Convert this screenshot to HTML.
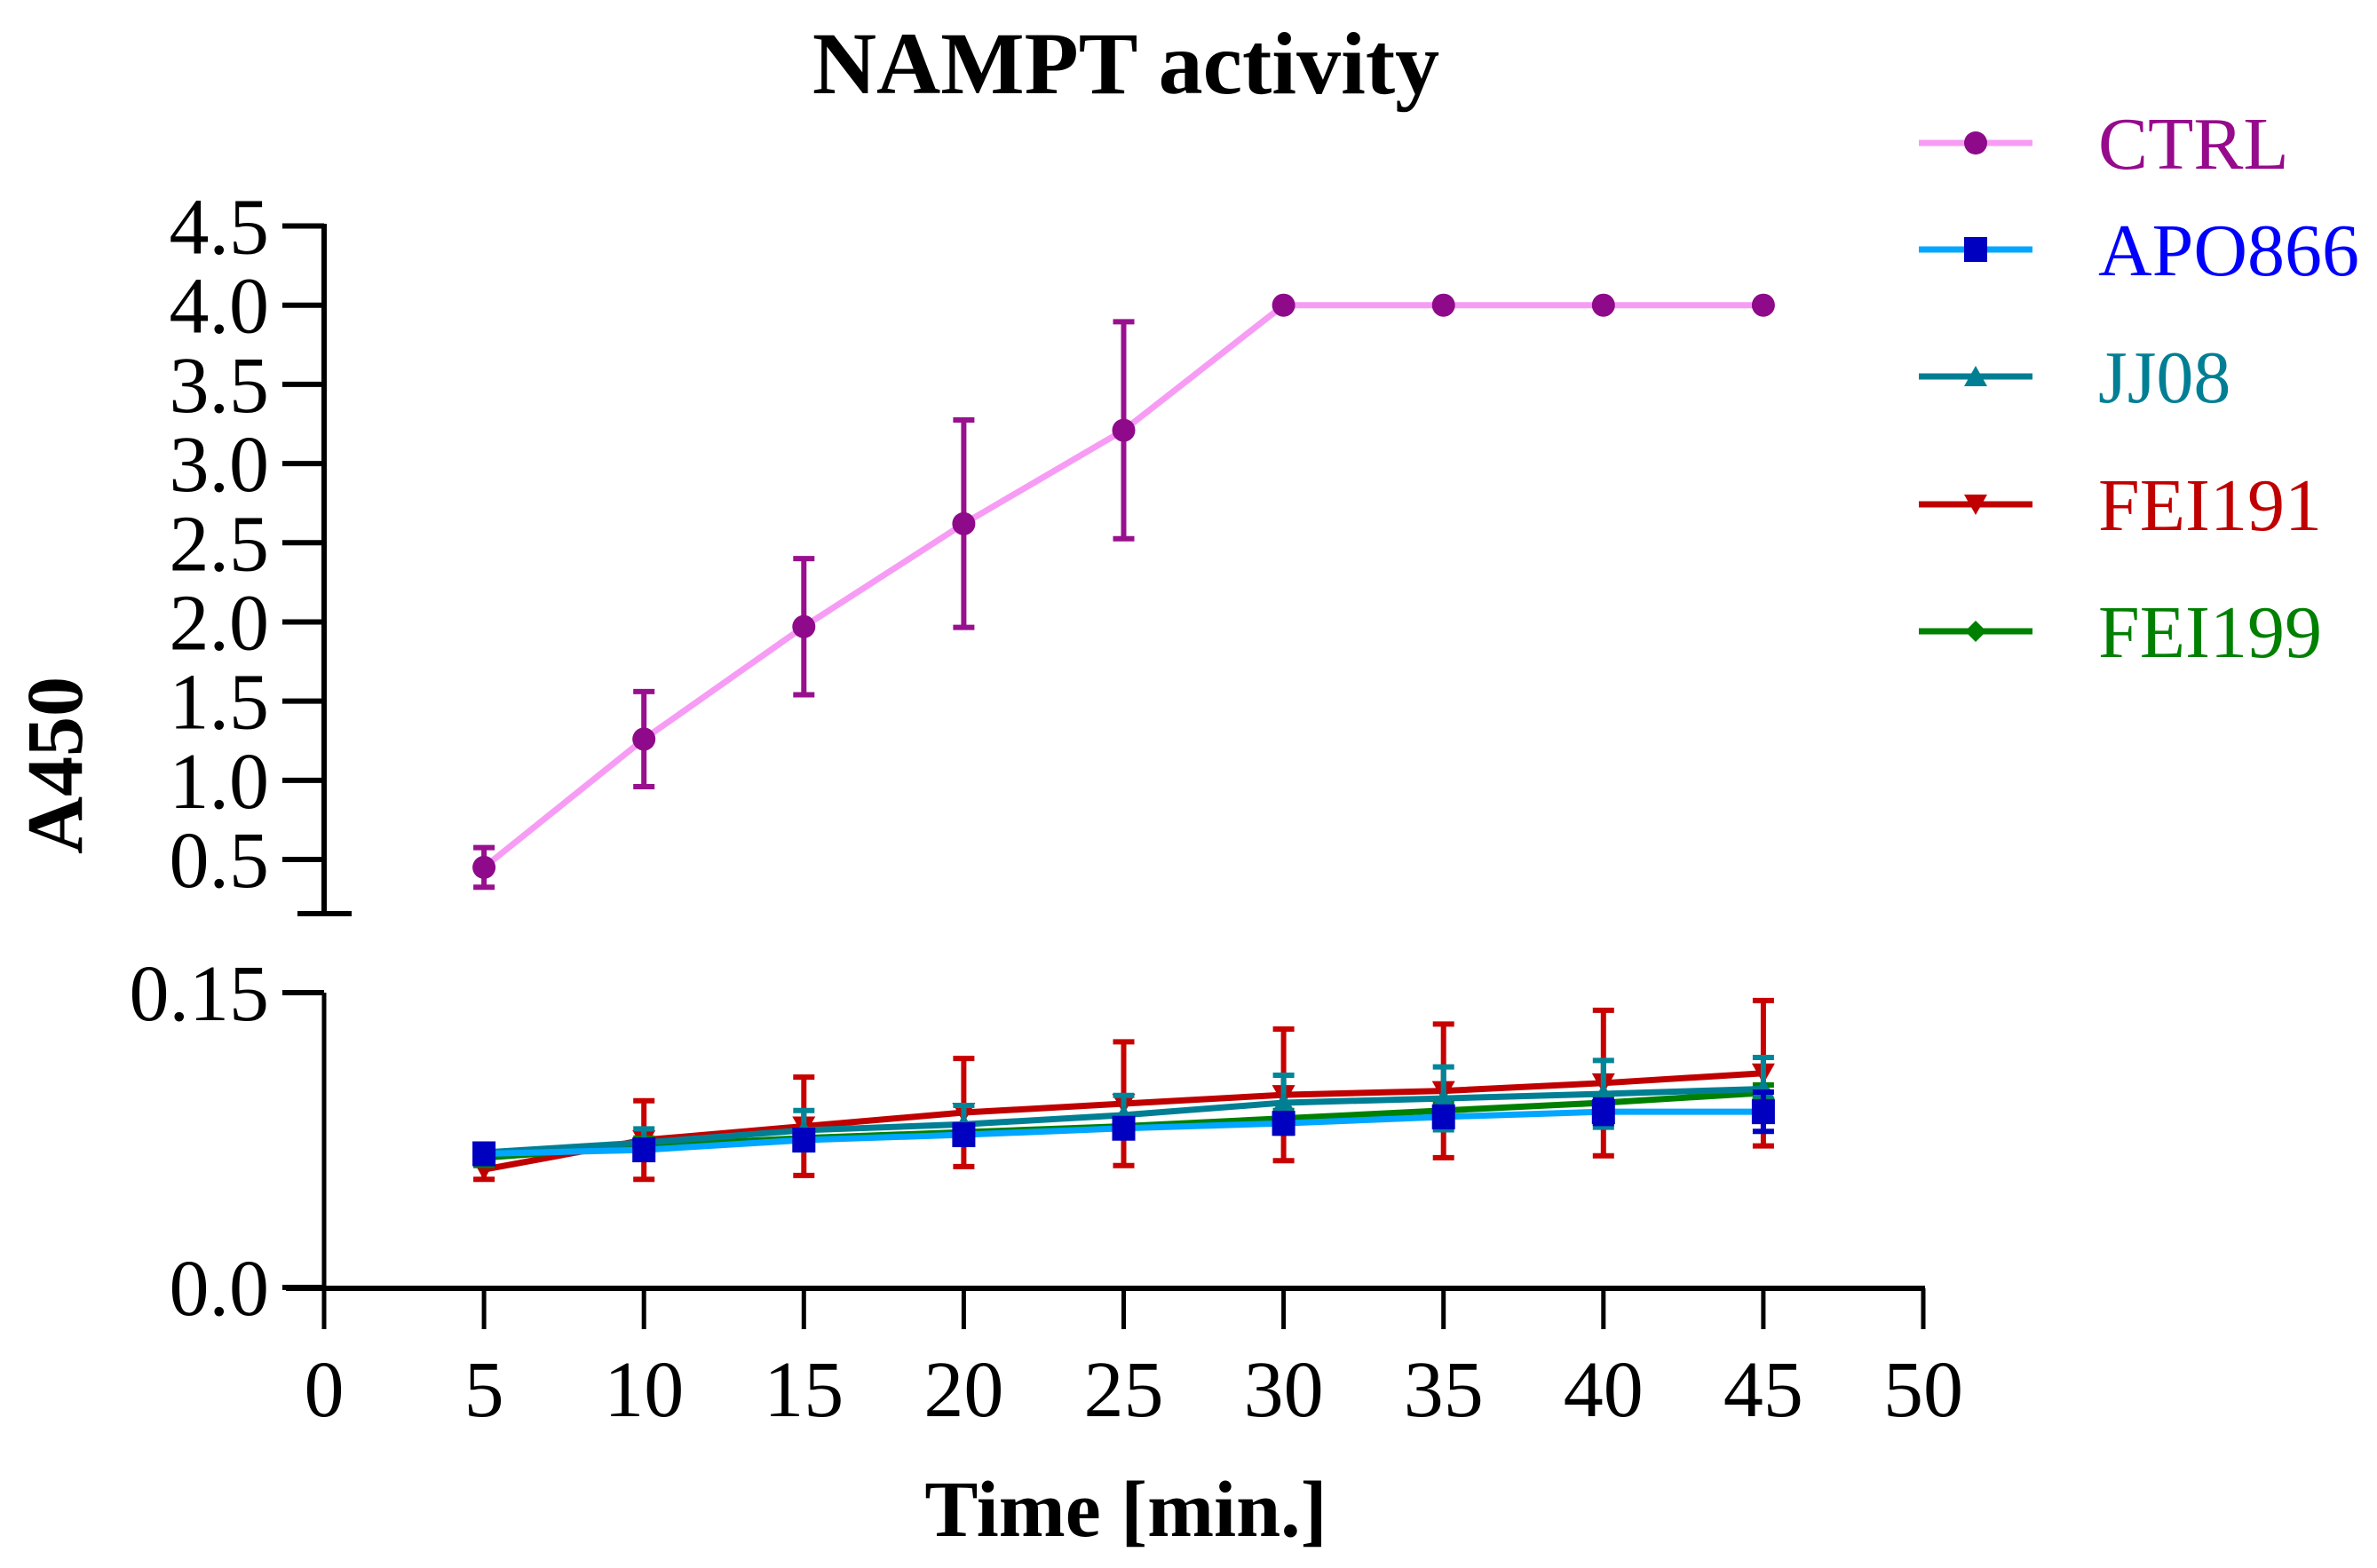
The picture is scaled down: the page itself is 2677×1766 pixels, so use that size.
<!DOCTYPE html>
<html><head><meta charset="utf-8"><style>
body{margin:0;background:#fff}
svg text{font-family:"Liberation Serif",serif}
</style></head><body>
<svg id="chart" width="2677" height="1761" viewBox="0 0 2677 1761" xmlns="http://www.w3.org/2000/svg">
<text x="1268" y="105" font-size="100" font-weight="bold" text-anchor="middle">NAMPT activity</text>
<text transform="translate(92,862) rotate(-90)" font-size="90" font-weight="bold" text-anchor="middle">A450</text>
<text x="1268" y="1730" font-size="90" font-weight="bold" text-anchor="middle">Time [min.]</text>
<g id="axes"></g>
<g id="series"></g>
<g id="legend"></g>
</svg>
<script>
const times=[5,10,15,20,25,30,35,40,45];
const xTicks=[0,5,10,15,20,25,30,35,40,45,50];
const yTicksUpper=["0.5","1.0","1.5","2.0","2.5","3.0","3.5","4.0","4.5"];
const yTicksLower=["0.0","0.15"];
const ctrlMean=[0.45,1.26,1.97,2.62,3.21,4.0,4.0,4.0,4.0];
const ctrlSd=[0.125,0.30,0.43,0.655,0.685,0,0,0,0];
const apoMean=[0.068,0.070,0.075,0.0777,0.081,0.0835,0.0868,0.0894,0.0894];
const apoSd=[0.004,0.004,0.004,0.004,0.004,0.005,0.005,0.006,0.010];
const jjMean=[0.0687,0.0737,0.080,0.083,0.0877,0.094,0.0962,0.0985,0.101];
const jjSd=[0.004,0.007,0.010,0.0096,0.010,0.014,0.016,0.017,0.016];
const fei191Mean=[0.060,0.075,0.082,0.089,0.0935,0.098,0.100,0.104,0.109];
const fei191Sd=[0.005,0.020,0.025,0.0275,0.0315,0.0335,0.034,0.037,0.037];
const fei199Mean=[0.066,0.072,0.076,0.079,0.082,0.086,0.090,0.094,0.099];
const fei199Sd=[0.004,0.004,0.004,0.004,0.004,0.004,0.004,0.004,0.004];

const NS="http://www.w3.org/2000/svg";
function mk(tag,attrs,parent){const e=document.createElementNS(NS,tag);for(const k in attrs)e.setAttribute(k,attrs[k]);parent.appendChild(e);return e;}
const X=v=>365+(v-0)*(2166-365)/50;
const upperCut=0.158;
function Y(v){ if(v>=upperCut) return 968-(v-0.5)*(968-254.5)/4; return 1450-v*(1450-1118)/0.15; }
const axes=document.getElementById('axes');
let l=mk('line',{x1:365,y1:252,x2:365,y2:1031,stroke:'#000','stroke-width':6},axes);


l=mk('line',{x1:335,y1:1029,x2:396,y2:1029,stroke:'#000','stroke-width':6},axes);


yTicksUpper.forEach(t=>{const y=Y(parseFloat(t));
 let tk=mk('line',{x1:318,y1:y,x2:365,y2:y,stroke:'#000','stroke-width':6},axes);
 
 
 let tx=mk('text',{x:303,y:y+31,'font-size':90,'text-anchor':'end'},axes);tx.textContent=t;
 
 
});
l=mk('line',{x1:365,y1:1118,x2:365,y2:1451,stroke:'#000','stroke-width':5},axes);


yTicksLower.forEach(t=>{const y=Y(parseFloat(t));
 let tk=mk('line',{x1:318,y1:y,x2:365,y2:y,stroke:'#000','stroke-width':6},axes);
 
 
 let tx=mk('text',{x:303,y:y+31,'font-size':90,'text-anchor':'end'},axes);tx.textContent=t;
 
 
});
l=mk('line',{x1:322,y1:1451,x2:2168,y2:1451,stroke:'#000','stroke-width':6},axes);


xTicks.forEach(t=>{const x=X(t);
 let tk=mk('line',{x1:x,y1:1451,x2:x,y2:1497,stroke:'#000','stroke-width':5},axes);
 
 
 let tx=mk('text',{x:x,y:1595,'font-size':90,'text-anchor':'middle'},axes);tx.textContent=String(t);
 
 
});
function marker(shape,x,y,color,parent){
 let e;
 if(shape==='circle') e=mk('circle',{cx:x,cy:y,r:13,fill:color},parent);
 else if(shape==='square') e=mk('rect',{x:x-13,y:y-14,width:26,height:28,fill:color},parent);
 else if(shape==='tri') e=mk('polygon',{points:`${x-13},${y+11} ${x+13},${y+11} ${x},${y-12}`,fill:color},parent);
 else if(shape==='itri') e=mk('polygon',{points:`${x-13},${y-11} ${x+13},${y-11} ${x},${y+12}`,fill:color},parent);
 else e=mk('polygon',{points:`${x-12},${y} ${x},${y-12} ${x+12},${y} ${x},${y+12}`,fill:color},parent);
 return e;
}
const seriesDefs=[
 {name:'ctrl',label:'CTRL',mean:ctrlMean,sd:ctrlSd,line:'#f79cf5',mark:'#8e0a8a',err:'#99108f',shape:'circle',text:'#960a8c'},
 {name:'fei191',label:'FEI191',mean:fei191Mean,sd:fei191Sd,line:'#c00000',mark:'#c00000',err:'#c80000',shape:'itri',text:'#c00000'},
 {name:'fei199',label:'FEI199',mean:fei199Mean,sd:fei199Sd,line:'#008000',mark:'#008000',err:'#008000',shape:'diamond',text:'#008000'},
 {name:'jj08',label:'JJ08',mean:jjMean,sd:jjSd,line:'#007f94',mark:'#007f94',err:'#008599',shape:'tri',text:'#007f94'},
 {name:'apo866',label:'APO866',mean:apoMean,sd:apoSd,line:'#00a6ff',mark:'#0000c0',err:'#0000c0',shape:'square',text:'#0000ff'}
];
const sg=document.getElementById('series');
seriesDefs.forEach(s=>{
 const g=mk('g',{},sg);
 
 
 const pts=times.map((t,i)=>X(t)+','+Y(s.mean[i])).join(' ');
 const pl=mk('polyline',{points:pts,fill:'none',stroke:s.line,'stroke-width':7},g);
 
 
 times.forEach((t,i)=>{
  if(s.sd[i]>0){
   const x=X(t),y1=Y(s.mean[i]+s.sd[i]),y2=Y(s.mean[i]-s.sd[i]);
   const eb=mk('path',{d:`M${x},${y1}V${y2}M${x-12},${y1}H${x+12}M${x-12},${y2}H${x+12}`,stroke:s.err,'stroke-width':6,fill:'none'},g);
   
   
  }
 });
 times.forEach((t,i)=>{
  const m=marker(s.shape,X(t),Y(s.mean[i]),s.mark,g);
  
  
 });
});
const lg=document.getElementById('legend');
const legendOrder=['ctrl','apo866','jj08','fei191','fei199'];
const rowsY=[161,281,424,568,711];
legendOrder.forEach((n,i)=>{
 const s=seriesDefs.find(d=>d.name===n);const y=rowsY[i];
 const g=mk('g',{},lg);
 
 
 mk('line',{x1:2161,y1:y,x2:2289,y2:y,stroke:s.line,'stroke-width':7},g);
 marker(s.shape,2225,y,s.mark,g);
 const tx=mk('text',{x:2363,y:y+29,'font-size':84,fill:s.text},g);tx.textContent=s.label;
});
</script>
</body></html>
